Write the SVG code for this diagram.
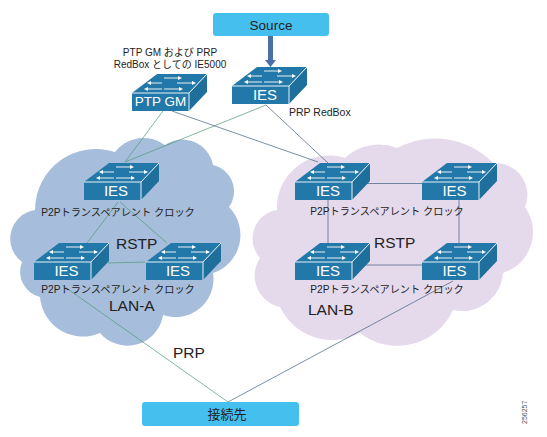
<svg xmlns="http://www.w3.org/2000/svg" width="547" height="437" viewBox="0 0 547 437">
<style>
text{font-family:"Liberation Sans","Noto Sans CJK JP",sans-serif;fill:#222}
.m{text-anchor:middle}
.s{font-size:10px}
.p{font-size:10.200px;text-anchor:middle}
.l{font-size:15.500px}
text.w{fill:#fff;font-size:15px;text-anchor:middle}
.g{stroke:#4f9a73;stroke-width:.7;fill:none}
.b{stroke:#3f5f80;stroke-width:.7;fill:none}
.box{fill:#45bfee}
.a{stroke:#fff;stroke-width:.9;fill:none}
.h{fill:#fff}
</style>
<defs>
<g id="sw">
<path d="M0 0L25-19H75L57 0Z" fill="#2278a8"/>
<path d="M57 0L75-19V-1L57 18Z" fill="#1f6f9c"/>
<rect x="0" y="0" width="57" height="18" fill="#2278a8"/>
<path d="M0 0H57L75-19M57 0V18" stroke="#fff" stroke-width=".9" fill="none"/>
<path class="a" d="M32-15H47M45-10H61M30-10H18M15-4H30M32-4H48"/>
<path class="h" d="M50-15l-4-2v4zM64-10l-4-2v4zM15-10l4-2v4zM12-4l4-2v4zM51-4l-4-2v4z"/>
</g>
</defs>
<path id="cloud-a" fill="#a6bddc" d="M35 210A61 61 0 0 1 115 152A36 36 0 0 1 165 145A31 31 0 0 1 213 165A27 27 0 0 1 229 207A40 40 0 0 1 213 273A38 38 0 0 1 163 315A36 36 0 0 1 100 333A43 43 0 0 1 40 297A26 26 0 0 1 22 262A29 29 0 0 1 35 210Z"/>
<path id="cloud-b" fill="#e5d9ec" d="M277 210A52 52 0 0 1 345 158A50 50 0 0 1 397 148A81 81 0 0 1 493 163A32 32 0 0 1 525 207A43 43 0 0 1 503 273A41 41 0 0 1 453 310A61 61 0 0 1 360 333A58 58 0 0 1 280 307A32 32 0 0 1 260 258A29 29 0 0 1 277 210Z"/>
<g id="connectors">
<path class="g" d="M163 111L125 162M266 105L125 162M118 202L87 243M120 202L167 243M108 263L145 262M62 285L228 402"/>
<path class="b" d="M172 111L318 162M266 105L328 163M352 183.500H422M328 200V244M459 200V244M352 265H422M453 281L228 402"/>
<path fill="#4a6fa5" d="M268 36H273V60H276L270.500 67L265 60H268Z"/>
</g>
<g id="source"><rect class="box" x="213" y="13" width="116" height="23" rx="3"/><text class="m" x="271" y="30" font-size="13.500">Source</text></g>
<g id="ptp-gm"><use href="#sw" x="132" y="93"/><text class="w" x="160.500" y="106" style="font-size:13.500px">PTP GM</text><text class="s m" x="170" y="56">PTP GM および PRP</text><text class="s m" x="170" y="68">RedBox としての IE5000</text></g>
<g id="redbox"><use href="#sw" x="232" y="86"/><text class="w" x="265" y="100">IES</text><text class="s" x="289" y="116" style="font-size:10.500px">PRP RedBox</text></g>
<g id="a-top"><use href="#sw" x="84" y="182"/><text class="w" x="116" y="195.500">IES</text><text class="p" x="118" y="216">P2Pトランスペアレント クロック</text></g>
<g id="a-left"><use href="#sw" x="34" y="262"/><text class="w" x="66.500" y="276">IES</text><text class="p" x="118" y="293">P2Pトランスペアレント クロック</text></g>
<g id="a-right"><use href="#sw" x="146" y="262"/><text class="w" x="178" y="276">IES</text></g>
<g id="b-tl"><use href="#sw" x="295" y="182"/><text class="w" x="328" y="196">IES</text><text class="p" x="387" y="215">P2Pトランスペアレント クロック</text></g>
<g id="b-tr"><use href="#sw" x="422" y="182"/><text class="w" x="454.500" y="196">IES</text></g>
<g id="b-bl"><use href="#sw" x="295" y="262"/><text class="w" x="328" y="276">IES</text><text class="p" x="387" y="293">P2Pトランスペアレント クロック</text></g>
<g id="b-br"><use href="#sw" x="422" y="262"/><text class="w" x="454.500" y="276">IES</text></g>
<g id="dest"><rect class="box" x="142" y="402" width="157" height="24" rx="3"/><text class="m" x="227" y="419" font-size="13">接続先</text></g>
<text class="l" x="116" y="249">RSTP</text>
<text class="l" x="109" y="311">LAN-A</text>
<text class="l" x="374" y="248">RSTP</text>
<text class="l" x="308" y="315">LAN-B</text>
<text class="l" x="173" y="358">PRP</text>
<text x="527" y="424" font-size="7" style="fill:#555" transform="rotate(-90 527 424)">256257</text>
</svg>
